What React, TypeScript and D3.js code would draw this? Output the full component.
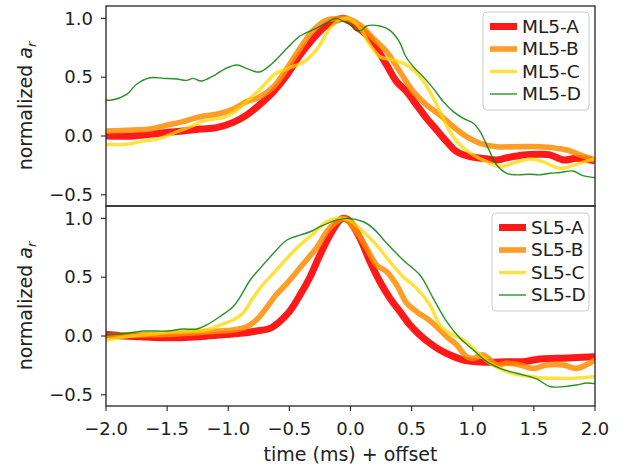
import React from 'react';
import * as d3 from 'd3';

type Pt = [number, number];

// top panel (ML5)
const ML5_A: Pt[] = [[-2,0.0],[-1.78,0.0],[-1.64,0.014],[-1.5,0.031],[-1.37,0.042],[-1.23,0.059],[-1.095,0.071],[-0.96,0.116],[-0.85,0.178],[-0.74,0.269],[-0.63,0.377],[-0.52,0.518],[-0.413,0.688],[-0.304,0.83],[-0.195,0.943],[-0.113,0.986],[-0.06,1.0],[0.0,0.975],[0.06,0.92],[0.133,0.858],[0.214,0.745],[0.296,0.603],[0.378,0.461],[0.46,0.377],[0.541,0.263],[0.623,0.15],[0.705,0.051],[0.787,-0.048],[0.869,-0.133],[0.978,-0.176],[1.086,-0.19],[1.196,-0.204],[1.278,-0.185],[1.414,-0.161],[1.55,-0.155],[1.632,-0.16],[1.74,-0.204],[1.85,-0.19],[2.0,-0.212]];
const ML5_B: Pt[] = [[-2,0.042],[-1.78,0.051],[-1.64,0.059],[-1.5,0.093],[-1.37,0.122],[-1.23,0.164],[-1.095,0.184],[-0.96,0.229],[-0.85,0.292],[-0.74,0.334],[-0.63,0.419],[-0.52,0.575],[-0.413,0.745],[-0.304,0.9],[-0.195,0.986],[-0.08,1.0],[-0.031,1.0],[0.078,0.943],[0.186,0.83],[0.296,0.716],[0.405,0.546],[0.514,0.377],[0.623,0.263],[0.732,0.178],[0.841,0.079],[0.95,-0.006],[1.06,-0.062],[1.196,-0.091],[1.36,-0.091],[1.55,-0.091],[1.77,-0.119],[1.88,-0.161],[2.0,-0.204]];
const ML5_C: Pt[] = [[-2,-0.071],[-1.83,-0.071],[-1.72,-0.048],[-1.56,-0.02],[-1.45,0.023],[-1.31,0.079],[-1.18,0.136],[-1.04,0.156],[-0.93,0.221],[-0.82,0.32],[-0.72,0.419],[-0.61,0.533],[-0.5,0.58],[-0.38,0.631],[-0.27,0.745],[-0.168,0.915],[-0.086,0.986],[-0.02,1.0],[0.078,0.915],[0.16,0.773],[0.241,0.674],[0.35,0.646],[0.46,0.603],[0.568,0.504],[0.65,0.377],[0.732,0.207],[0.814,0.037],[0.896,-0.076],[1.005,-0.161],[1.114,-0.218],[1.223,-0.26],[1.332,-0.23],[1.468,-0.195],[1.577,-0.22],[1.714,-0.275],[1.85,-0.24],[2.0,-0.19]];
const ML5_D: Pt[] = [[-2,0.306],[-1.95,0.306],[-1.83,0.354],[-1.75,0.44],[-1.64,0.495],[-1.53,0.49],[-1.42,0.484],[-1.34,0.473],[-1.29,0.49],[-1.22,0.467],[-1.12,0.512],[-1.03,0.569],[-0.93,0.603],[-0.836,0.569],[-0.746,0.544],[-0.645,0.612],[-0.52,0.745],[-0.413,0.85],[-0.3,0.906],[-0.2,0.96],[-0.12,1.0],[-0.05,0.97],[0.0,0.943],[0.04,0.9],[0.09,0.9],[0.133,0.935],[0.24,0.935],[0.32,0.9],[0.4,0.8],[0.45,0.68],[0.514,0.589],[0.595,0.504],[0.677,0.405],[0.759,0.292],[0.841,0.207],[0.923,0.15],[1.005,0.108],[1.06,0.037],[1.127,-0.105],[1.196,-0.246],[1.278,-0.317],[1.36,-0.33],[1.468,-0.325],[1.55,-0.33],[1.632,-0.317],[1.714,-0.31],[1.82,-0.297],[1.9,-0.337],[2.0,-0.354]];

// bottom panel (SL5)
const SL5_A: Pt[] = [[-2,0.014],[-1.89,0.003],[-1.72,-0.006],[-1.56,-0.014],[-1.39,-0.014],[-1.23,-0.006],[-1.07,0.008],[-0.9,0.023],[-0.77,0.042],[-0.66,0.065],[-0.58,0.122],[-0.5,0.207],[-0.413,0.348],[-0.33,0.504],[-0.25,0.688],[-0.168,0.858],[-0.086,0.986],[-0.05,1.0],[-0.004,0.971],[0.078,0.83],[0.16,0.631],[0.241,0.461],[0.323,0.32],[0.405,0.207],[0.487,0.093],[0.568,0.008],[0.65,-0.062],[0.732,-0.119],[0.814,-0.161],[0.923,-0.204],[1.032,-0.218],[1.141,-0.224],[1.278,-0.218],[1.414,-0.218],[1.55,-0.195],[1.686,-0.19],[1.82,-0.185],[2.0,-0.176]];
const SL5_B: Pt[] = [[-2,-0.006],[-1.78,0.008],[-1.5,0.014],[-1.23,0.031],[-1.07,0.042],[-0.96,0.051],[-0.85,0.079],[-0.77,0.136],[-0.69,0.235],[-0.61,0.348],[-0.52,0.447],[-0.44,0.546],[-0.36,0.646],[-0.27,0.759],[-0.195,0.886],[-0.113,0.971],[-0.05,1.0],[0.05,0.886],[0.133,0.745],[0.214,0.603],[0.296,0.546],[0.378,0.433],[0.46,0.278],[0.541,0.207],[0.623,0.15],[0.705,0.079],[0.787,-0.006],[0.869,-0.076],[0.95,-0.176],[1.005,-0.19],[1.086,-0.161],[1.196,-0.246],[1.278,-0.232],[1.387,-0.246],[1.496,-0.275],[1.605,-0.246],[1.74,-0.246],[1.85,-0.275],[2.0,-0.204]];
const SL5_C: Pt[] = [[-2,-0.034],[-1.83,-0.006],[-1.64,0.014],[-1.45,0.037],[-1.29,0.042],[-1.15,0.059],[-1.07,0.093],[-0.96,0.136],[-0.88,0.193],[-0.8,0.32],[-0.72,0.433],[-0.63,0.533],[-0.52,0.66],[-0.413,0.773],[-0.3,0.873],[-0.195,0.971],[-0.086,1.0],[-0.004,0.98],[0.105,0.886],[0.214,0.773],[0.323,0.631],[0.43,0.504],[0.541,0.405],[0.65,0.263],[0.732,0.093],[0.814,0.023],[0.923,-0.034],[1.032,-0.133],[1.141,-0.232],[1.278,-0.303],[1.414,-0.337],[1.55,-0.354],[1.686,-0.36],[1.82,-0.36],[2.0,-0.345]];
const SL5_D: Pt[] = [[-2,0.008],[-1.83,0.023],[-1.69,0.042],[-1.5,0.042],[-1.37,0.059],[-1.26,0.059],[-1.18,0.093],[-1.07,0.164],[-0.96,0.249],[-0.91,0.32],[-0.82,0.476],[-0.74,0.575],[-0.63,0.703],[-0.52,0.816],[-0.413,0.858],[-0.33,0.886],[-0.25,0.929],[-0.14,0.977],[-0.031,1.0],[0.105,0.971],[0.186,0.915],[0.296,0.788],[0.43,0.646],[0.568,0.518],[0.677,0.32],[0.787,0.122],[0.896,-0.02],[1.005,-0.119],[1.114,-0.218],[1.223,-0.275],[1.36,-0.317],[1.523,-0.365],[1.632,-0.43],[1.74,-0.43],[1.85,-0.416],[1.93,-0.4],[2.0,-0.405]];

const xTicks = [-2.0, -1.5, -1.0, -0.5, 0.0, 0.5, 1.0, 1.5, 2.0];
const yTicks = [-0.5, 0.0, 0.5, 1.0];

const styles = [
  { color: '#ff0000', width: 7, opacity: 0.9 },
  { color: '#ff8c00', width: 5.6, opacity: 0.85 },
  { color: '#ffd700', width: 3.5, opacity: 0.75 },
  { color: '#008000', width: 1.4, opacity: 0.85 },
];

const panels = [
  { names: ['ML5-A', 'ML5-B', 'ML5-C', 'ML5-D'], series: [ML5_A, ML5_B, ML5_C, ML5_D], legendW: 106 },
  { names: ['SL5-A', 'SL5-B', 'SL5-C', 'SL5-D'], series: [SL5_A, SL5_B, SL5_C, SL5_D], legendW: 97 },
];

const W = 630, H = 471;
const left = 106, right = 595, top = 6, panelH = 200;
const font = 'DejaVu Sans, sans-serif';
const fmt = (v: number) => v.toFixed(1).replace('-', '\u2212');

export default function App() {
  const x = d3.scaleLinear().domain([-2, 2]).range([left, right]);

  return (
    <svg width={W} height={H} style={{ position: 'absolute', left: 0, top: 0, background: '#fff' }} fontFamily={font}>
      {panels.map((p, pi) => {
        const y0 = top + pi * panelH;
        const y = d3.scaleLinear().domain([-0.595, 1.105]).range([y0 + panelH, y0]);
        const line = d3.line<Pt>().x(d => x(d[0])).y(d => y(d[1])).curve(d3.curveCatmullRom.alpha(0.5));
        const lx = right - 6 - p.legendW;
        const ly = y0 + 6 + (pi === 1 ? 1 : 0);
        return (
          <g key={pi}>
            <defs>
              <clipPath id={`clip${pi}`}>
                <rect x={left} y={y0} width={right - left} height={panelH} />
              </clipPath>
            </defs>
            <g clipPath={`url(#clip${pi})`}>
              {p.series.map((s, si) => (
                <path key={si} d={line(s) || ''} fill="none" stroke={styles[si].color}
                  strokeWidth={styles[si].width} strokeOpacity={styles[si].opacity}
                  strokeLinejoin="round" strokeLinecap="butt" />
              ))}
            </g>
            <rect x={left} y={y0} width={right - left} height={panelH} fill="none" stroke="#222" strokeWidth={1.3} />
            {yTicks.map(t => (
              <g key={t}>
                <line x1={left - 5} x2={left} y1={y(t)} y2={y(t)} stroke="#222" strokeWidth={1.1} />
                <text x={left - 13} y={y(t)} dy="0.35em" textAnchor="end" fontSize={18} fill="#222">{fmt(t)}</text>
              </g>
            ))}
            <text transform={`translate(32,${y0 + panelH / 2}) rotate(-90)`} textAnchor="middle" fontSize={19} fill="#222">
              normalized <tspan fontStyle="italic">a</tspan><tspan fontSize={13} dy={4} fontStyle="italic">r</tspan>
            </text>
            <g>
              <rect x={lx} y={ly} width={p.legendW} height={98} rx={4} fill="#fff" fillOpacity={0.8} stroke="#ccc" strokeWidth={1} />
              {p.names.map((n, i) => {
                const ry = ly + 14.5 + i * 22.5;
                return (
                  <g key={n}>
                    <line x1={lx + 7} x2={lx + 34} y1={ry} y2={ry} stroke={styles[i].color}
                      strokeWidth={styles[i].width} strokeOpacity={styles[i].opacity} />
                    <text x={lx + 39} y={ry} dy="0.35em" fontSize={18.5} fill="#222">{n}</text>
                  </g>
                );
              })}
            </g>
          </g>
        );
      })}
      {xTicks.map(t => (
        <g key={t}>
          <line x1={x(t)} x2={x(t)} y1={top + 2 * panelH} y2={top + 2 * panelH + 5} stroke="#222" strokeWidth={1.1} />
          <text x={x(t)} y={top + 2 * panelH + 29} textAnchor="middle" fontSize={18} fill="#222">{fmt(t)}</text>
        </g>
      ))}
      <text x={(left + right) / 2} y={461} textAnchor="middle" fontSize={19} fill="#222">time (ms) + offset</text>
    </svg>
  );
}
